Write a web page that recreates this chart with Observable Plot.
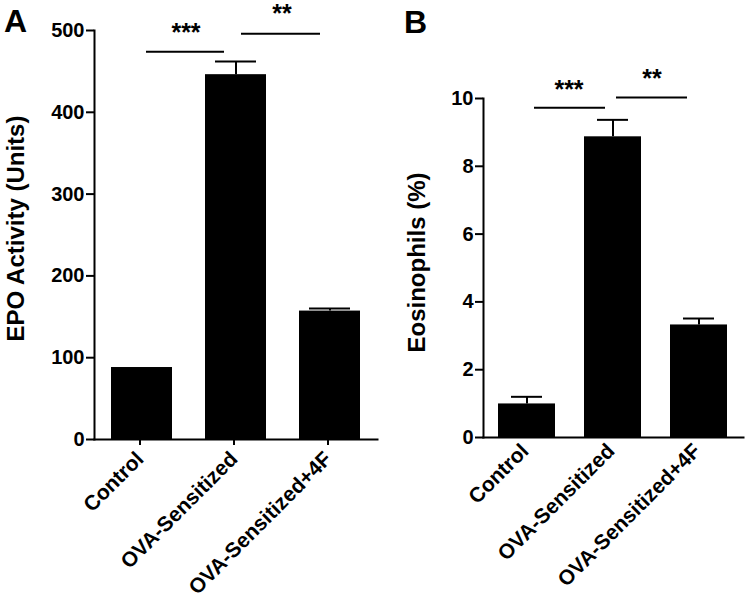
<!DOCTYPE html>
<html><head><meta charset="utf-8">
<script src="https://cdn.jsdelivr.net/npm/d3@7"></script>
<script src="https://cdn.jsdelivr.net/npm/@observablehq/plot@0.6"></script>
<style>
body{margin:0;background:#fff}
#row{display:flex;width:747px;height:605px;overflow:hidden}
</style>
</head><body><div id="row"></div>
<script>
// ---- data ----
const categories = ["Control", "OVA-Sensitized", "OVA-Sensitized+4F"];
const epoMean = [88, 446, 157];
const epoSem = [0, 16, 3];
const eosMean = [0.99, 8.87, 3.32];
const eosSem = [0.21, 0.50, 0.19];
const epoTicks = [0, 100, 200, 300, 400, 500];
const eosTicks = [0, 2, 4, 6, 8, 10];
const epoSigFrom = ["Control", "OVA-Sensitized"];
const epoSigTo = ["OVA-Sensitized", "OVA-Sensitized+4F"];
const epoSigY = [474, 496];
const eosSigFrom = ["Control", "OVA-Sensitized"];
const eosSigTo = ["OVA-Sensitized", "OVA-Sensitized+4F"];
const eosSigY = [9.73, 10.03];
const sigLabels = ["***", "**"];

const font = "'Liberation Sans', Arial, Helvetica, sans-serif";

function panel(cfg) {
  const rows = categories.map((c, i) => ({cat: c, mean: cfg.mean[i], sem: cfg.sem[i]}));
  const sig = sigLabels.map((l, i) => ({from: cfg.sigFrom[i], to: cfg.sigTo[i], y: cfg.sigY[i], label: l}));
  const marks = [
    Plot.barY(rows, {x: "cat", y: "mean", fill: "black"}),
    Plot.ruleX(rows.filter(d => d.sem > 0), {x: "cat", y1: "mean", y2: d => d.mean + d.sem, stroke: "black", strokeWidth: 2}),
    Plot.tickY(rows.filter(d => d.sem > 0), {x: "cat", y: d => d.mean + d.sem, stroke: "black", strokeWidth: 2, insetLeft: cfg.capInset, insetRight: cfg.capInset}),
    Plot.frame({anchor: "left", stroke: "black", strokeWidth: 2}),
    Plot.frame({anchor: "bottom", stroke: "black", strokeWidth: 2}),
    Plot.axisY({ticks: cfg.ticks, tickSize: 8, tickPadding: 2, fontSize: 20, strokeWidth: 2, label: null, tickFormat: d => String(d)}),
    Plot.axisX({tickSize: cfg.xTickSize, tickPadding: cfg.xTickPad, dx: cfg.xLabelDx, tickRotate: -45, fontSize: 21, strokeWidth: 2, label: null}),
    Plot.text([cfg.ylabel], {text: d => d, frameAnchor: "left", textAnchor: "middle", lineAnchor: "middle", rotate: -90, dx: cfg.ylabelDx, dy: cfg.ylabelDy, fontSize: 24}),
    Plot.text([cfg.letter], {text: d => d, frameAnchor: "top-left", textAnchor: "middle", lineAnchor: "middle", dx: cfg.letterDx, dy: cfg.letterDy, fontSize: 32})
  ];
  sig.forEach((s, i) => {
    marks.push(Plot.ruleY([s], {x1: "from", x2: "to", y: "y", stroke: "black", strokeWidth: 2,
      insetLeft: cfg.sigInset[i][0], insetRight: cfg.sigInset[i][1]}));
    marks.push(Plot.text([s], {x: "to", y: "y", text: "label", dx: cfg.sigDx[i], dy: cfg.sigDy[i], fontSize: 25}));
  });
  return Plot.plot({
    width: cfg.width, height: 605,
    marginLeft: cfg.ml, marginRight: cfg.mr, marginTop: cfg.mt, marginBottom: cfg.mb,
    style: {fontFamily: font, fontWeight: "bold", color: "black", background: "white", overflow: "visible"},
    x: {domain: categories, paddingInner: cfg.pi, paddingOuter: cfg.po},
    y: {domain: cfg.domain},
    marks
  });
}

const row = document.getElementById("row");
row.append(panel({
  width: 385, ml: 94, mr: 8, mt: 30, mb: 166, pi: 0.35, po: 0.18,
  mean: epoMean, sem: epoSem, ticks: epoTicks, domain: [0, 500],
  xTickSize: 6, xTickPad: 10, xLabelDx: -2,
  sigFrom: epoSigFrom, sigTo: epoSigTo, sigY: epoSigY,
  sigInset: [[35, 42], [36, 40]], sigDx: [-50, -48], sigDy: [-19, -20],
  capInset: 10, ylabel: "EPO Activity (Units)", ylabelDx: -78, ylabelDy: -6.5,
  letter: "A", letterDx: -79, letterDy: -8.5
}));
row.append(panel({
  width: 362, ml: 98, mr: 4, mt: 98, mb: 168, pi: 0.333, po: 0.165,
  mean: eosMean, sem: eosSem, ticks: eosTicks, domain: [0, 10],
  xTickSize: 0, xTickPad: 10, xLabelDx: -2,
  sigFrom: eosSigFrom, sigTo: eosSigTo, sigY: eosSigY,
  sigInset: [[36, 36], [32, 40]], sigDx: [-44, -47], sigDy: [-18, -18],
  capInset: 13, ylabel: "Eosinophils (%)", ylabelDx: -66, ylabelDy: -5.5,
  letter: "B", letterDx: -68, letterDy: -76
}));
</script>
</body></html>
